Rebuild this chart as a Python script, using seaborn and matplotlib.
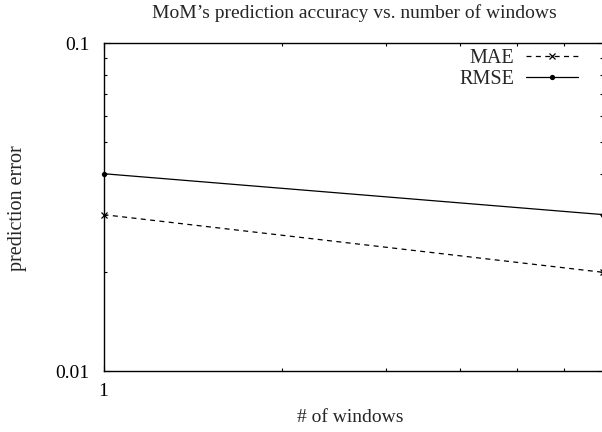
import matplotlib
matplotlib.use("Agg")
import matplotlib.pyplot as plt
import seaborn as sns
import pandas as pd
from matplotlib.ticker import LogLocator, NullFormatter, FixedLocator, FixedFormatter

windows = [1, 7]
mae = [0.03, 0.02]
rmse = [0.04, 0.03]
series_names = ["MAE", "RMSE"]
y_ticks = [0.01, 0.1]
y_tick_labels = ["0.01", "0.1"]
x_ticks = [1]
x_tick_labels = ["1"]

sns.set_style("ticks")
plt.rcParams['font.family'] = ['Liberation Serif', 'DejaVu Serif']

FS = 14
fig = plt.figure(figsize=(6.02, 4.32), dpi=100)
ax = fig.add_axes([103.5/602, 1-371/432, 500/602, 327.7/432])

df = pd.DataFrame({"windows": windows * 2,
                   "error": mae + rmse,
                   "series": [series_names[0]] * 2 + [series_names[1]] * 2})

sns.lineplot(data=df[df.series == series_names[0]], x="windows", y="error", ax=ax,
             color="black", lw=0.9, marker="x", markersize=3.8, mew=0.9,
             markeredgecolor="black", label=series_names[0],
             linestyle=(0, (4, 3.5)), clip_on=False)
sns.lineplot(data=df[df.series == series_names[1]], x="windows", y="error", ax=ax,
             color="black", lw=0.9, marker="o", markersize=3.8, mew=0,
             markeredgecolor="black", label=series_names[1], clip_on=False)

ax.set_xscale("log")
ax.set_yscale("log")
ax.set_xlim(1, 7)
ax.set_ylim(0.01, 0.1)

ax.xaxis.set_major_locator(FixedLocator(x_ticks))
ax.xaxis.set_major_formatter(FixedFormatter(x_tick_labels))
ax.xaxis.set_minor_locator(LogLocator(base=10, subs=range(2, 10)))
ax.xaxis.set_minor_formatter(NullFormatter())
ax.yaxis.set_major_locator(FixedLocator(y_ticks))
ax.yaxis.set_major_formatter(FixedFormatter(y_tick_labels))
ax.yaxis.set_minor_locator(LogLocator(base=10, subs=range(2, 10)))
ax.yaxis.set_minor_formatter(NullFormatter())

ax.tick_params(which="both", direction="in", top=True, right=True,
               colors="black", labelsize=FS, width=0.8)
ax.tick_params(which="major", length=4)
ax.tick_params(which="minor", length=2)
ax.tick_params(axis="y", which="major", pad=10)
ax.tick_params(axis="x", which="major", pad=9)
for s in ax.spines.values():
    s.set_visible(True)
    s.set_color("black")
    s.set_linewidth(1.0)

ax.set_xlabel("# of windows", fontsize=FS)
ax.xaxis.set_label_coords(350/602, 1-417/432, transform=fig.transFigure)
ax.xaxis.label.set_va("center")
ax.set_ylabel("prediction error", fontsize=FS + 0.5)
ax.yaxis.set_label_coords(18/602, 1-208/432, transform=fig.transFigure)
ax.yaxis.label.set_va("center")

fig.text(354/602, 1-13/432, "MoM\u2019s prediction accuracy vs. number of windows",
         ha="center", va="center", fontsize=FS)

leg = ax.legend(loc="upper right", frameon=False, markerfirst=False,
                fontsize=FS + 0.5, handlelength=2.6, handletextpad=0.55,
                borderaxespad=0, borderpad=0, labelspacing=0.1,
                bbox_to_anchor=(578/602, 1-49/432),
                bbox_transform=fig.transFigure)

fig.savefig("out.png", dpi=100)
